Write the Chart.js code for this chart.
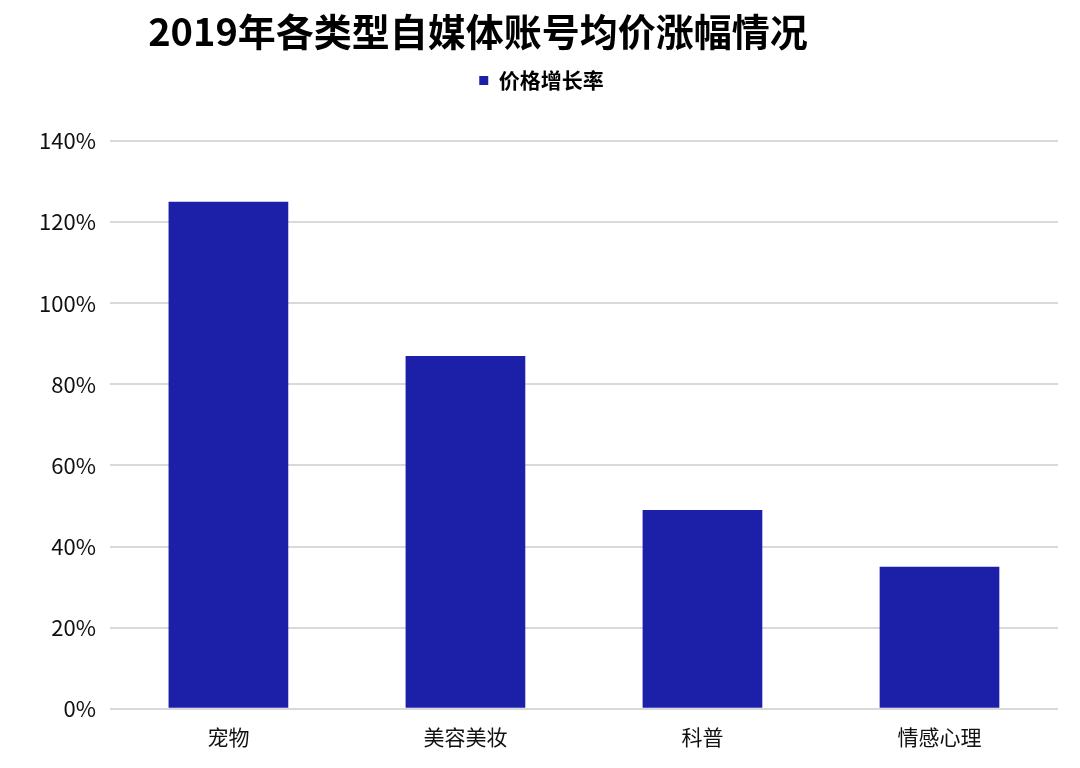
<!DOCTYPE html>
<html lang="zh">
<head>
    <meta charset="UTF-8">
    <title>2019年各类型自媒体账号均价涨幅情况</title>
    <script src="https://cdn.jsdelivr.net/npm/chart.js"></script>
    <style>
        body { margin: 0; background: #fff; }
        .wrap { position: relative; width: 1080px; height: 768px; }
        .chart-title {
            position: absolute;
            left: 478px;
            top: 5px;
            transform: translateX(-50%);
            white-space: nowrap;
            font-family: "Noto Sans CJK SC", "Noto Sans", sans-serif;
            font-weight: 700;
            font-size: 38px;
            color: #000;
            line-height: 50px;
        }
    </style>
</head>
<body>
    <div class="wrap">
        <div class="chart-title">2019年各类型自媒体账号均价涨幅情况</div>
        <canvas id="growthChart" width="1080" height="768"></canvas>
    </div>

    <script>
        // Data
        const categories = ['宠物', '美容美妆', '科普', '情感心理'];
        const growthRates = [125, 87, 49, 35];
        const seriesName = '价格增长率';
        const yTicks = [0, 20, 40, 60, 80, 100, 120, 140];

        const fontFamily = '"Noto Sans CJK SC", "Noto Sans", sans-serif';

        // extra gap under the legend
        const legendGap = {
            id: 'legendGap',
            beforeInit(chart) {
                const fit = chart.legend.fit;
                chart.legend.fit = function () {
                    fit.bind(chart.legend)();
                    this.height += 40;
                };
            }
        };

        new Chart(document.getElementById('growthChart'), {
            type: 'bar',
            data: {
                labels: categories,
                datasets: [{
                    label: seriesName,
                    data: growthRates,
                    backgroundColor: '#1c1fa8',
                    borderWidth: 0,
                    categoryPercentage: 1,
                    barPercentage: 0.505
                }]
            },
            plugins: [legendGap],
            options: {
                responsive: false,
                animation: false,
                layout: { padding: { top: 40, right: 22, bottom: 10, left: 25 } },
                plugins: {
                    legend: {
                        position: 'top',
                        labels: {
                            boxWidth: 9,
                            boxHeight: 9,
                            color: '#000',
                            padding: 30,
                            font: { family: fontFamily, size: 21, weight: '700' }
                        }
                    },
                    tooltip: { enabled: false }
                },
                scales: {
                    x: {
                        grid: { display: false },
                        border: { display: false },
                        ticks: {
                            color: '#111',
                            padding: 8,
                            font: { family: fontFamily, size: 21 }
                        }
                    },
                    y: {
                        min: 0,
                        max: 140,
                        afterBuildTicks: axis => {
                            axis.ticks = yTicks.map(v => ({ value: v }));
                        },
                        grid: { color: '#d9d9d9', lineWidth: 2, drawTicks: false },
                        border: { display: false },
                        ticks: {
                            color: '#111',
                            padding: 14,
                            font: { family: fontFamily, size: 22 },
                            callback: v => v + '%'
                        }
                    }
                }
            }
        });
    </script>
</body>
</html>
